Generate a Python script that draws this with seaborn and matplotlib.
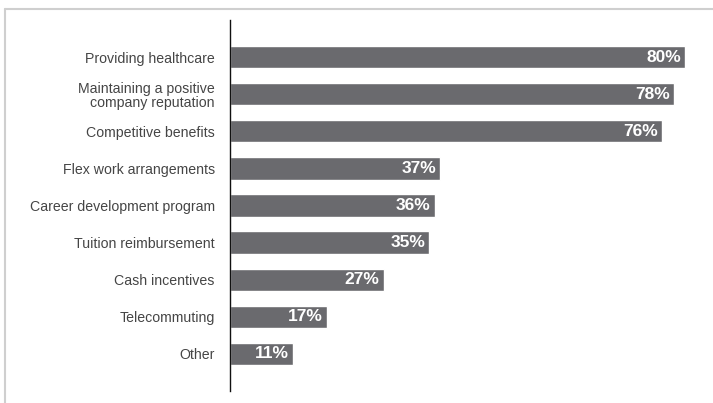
import matplotlib
matplotlib.use("Agg")
import matplotlib.pyplot as plt
from matplotlib.lines import Line2D
import seaborn as sns
import pandas as pd

categories = [
    "Providing healthcare",
    "Maintaining a positive\ncompany reputation",
    "Competitive benefits",
    "Flex work arrangements",
    "Career development program",
    "Tuition reimbursement",
    "Cash incentives",
    "Telecommuting",
    "Other",
]
values = [80, 78, 76, 37, 36, 35, 27, 17, 11]

df = pd.DataFrame({"category": categories, "value": values})

sns.set_theme(style="white")
plt.rcParams["font.family"] = ["Liberation Sans", "DejaVu Sans"]

fig = plt.figure(figsize=(7.13, 4.03), dpi=100)
W, H = 713, 403
ax = fig.add_axes([230 / W, 1 - 391 / H, (700 - 230) / W, (391 - 20) / H])

sns.barplot(data=df, x="value", y="category", orient="h", color="#6a6a6e",
            saturation=1, width=0.6, ax=ax)

ax.set_xlim(0, (700 - 230) / 5.6875)
ax.set_ylim(len(categories), -1)
ax.set_xlabel("")
ax.set_ylabel("")
ax.set_xticks([])
ax.tick_params(axis="y", length=0, pad=11, labelsize=10.2, labelcolor="#454545")
for lbl in ax.get_yticklabels():
    lbl.set_horizontalalignment("right")
    lbl.set_multialignment("right")
    lbl.set_linespacing(1.0)

for s in ["top", "right", "bottom"]:
    ax.spines[s].set_visible(False)
ax.spines["left"].set_color("#111111")
ax.spines["left"].set_linewidth(1.0)

for i, v in enumerate(values):
    ax.text(v - 0.7, i, f"{v}%", ha="right", va="center", color="white",
            fontsize=12.5, fontweight="bold")

# light frame along the top and left edges
fig.add_artist(Line2D([4.5 / W, 4.5 / W], [0, 1 - 9 / H], transform=fig.transFigure,
                      color="#cfcfcf", lw=1.5))
fig.add_artist(Line2D([4.5 / W, 1], [1 - 9 / H, 1 - 9 / H], transform=fig.transFigure,
                      color="#cfcfcf", lw=1.5))

fig.savefig("out.png", dpi=100)
